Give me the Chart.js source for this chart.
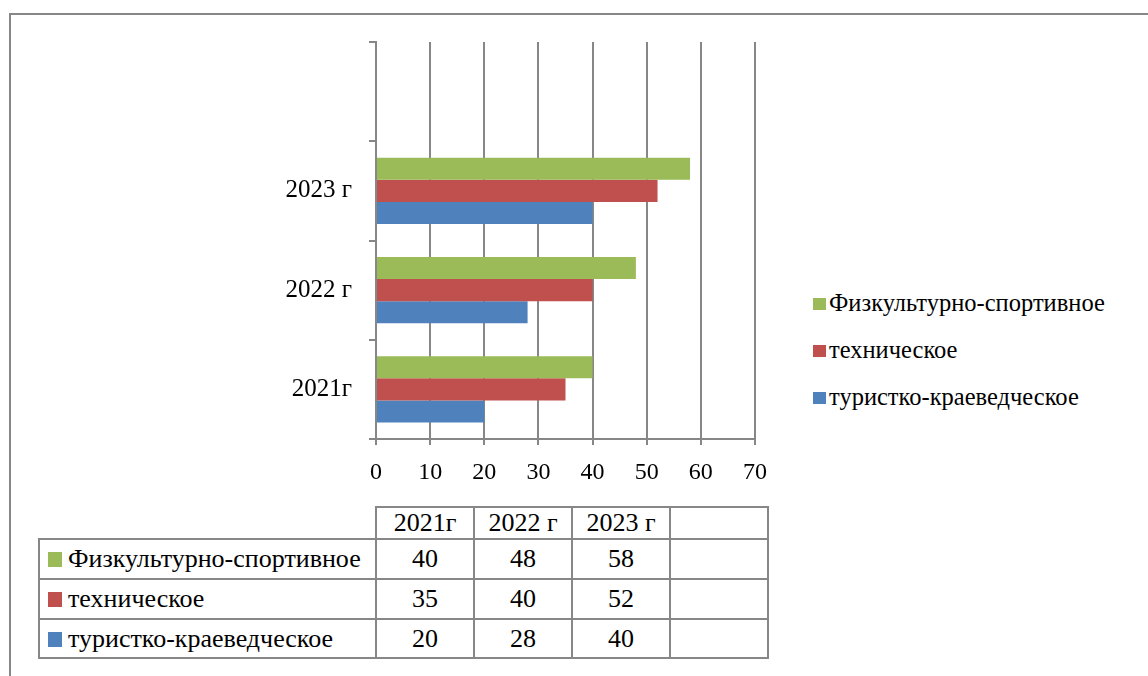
<!DOCTYPE html>
<html>
<head>
<meta charset="utf-8">
<script src="https://cdn.jsdelivr.net/npm/chart.js@4.4.0/dist/chart.umd.min.js"></script>
<style>
  html, body { margin: 0; padding: 0; background: #fff; }
  body { width: 1148px; height: 676px; position: relative; overflow: hidden; font-family: "Liberation Serif", "DejaVu Serif", serif; }
  #frame { position: absolute; left: 9px; top: 13px; width: 1200px; height: 700px; border: 2px solid #878787; box-sizing: border-box; }
  #wrap { position: absolute; left: 0; top: 0; }
  #legend { position: absolute; left: 813px; top: 284px; font-size: 24.5px; color: #000; }
  #legend div { height: 47px; line-height: 38px; white-space: nowrap; }
  #legend span.sw { display: inline-block; width: 13px; height: 12px; margin-right: 3px; vertical-align: 1px; }
  #tbl { position: absolute; left: 38px; top: 506px; border-collapse: collapse; font-size: 26px; color: #000; }
  #tbl td { border: 2px solid #878787; padding: 0; text-align: center; white-space: nowrap; }
  #tbl td.lab { text-align: left; padding-left: 8px; }
  #tbl td.blank { border: none; }
  #tbl span.sw { display: inline-block; width: 14px; height: 15px; margin-right: 6px; vertical-align: 0px; }
</style>
</head>
<body>
<div id="frame"></div>
<div id="wrap"><canvas id="chart" width="780" height="500"></canvas></div>
<div id="legend"></div>
<table id="tbl"></table>
<script>
// categories along the value axis (bottom to top), last one is empty in the source
var categories = ["2021г", "2022 г", "2023 г", ""];
var seriesNames = ["Физкультурно-спортивное", "техническое", "туристко-краеведческое"];
var sport = [40, 48, 58, null];
var tech = [35, 40, 52, null];
var tourism = [20, 28, 40, null];
var xTicks = [0, 10, 20, 30, 40, 50, 60, 70];
var colors = ["#9BBB59", "#C0504D", "#4F81BD"];

var seriesValues = [sport, tech, tourism];
var gridColor = "#878787";
var font = { family: "'Liberation Serif', 'DejaVu Serif', serif", size: 24 };

var datasets = seriesNames.map(function(name, i) {
  return {
    label: name,
    data: seriesValues[i],
    backgroundColor: colors[i],
    borderWidth: 0,
    categoryPercentage: 0.667,
    barPercentage: 1.0
  };
});

new Chart(document.getElementById("chart"), {
  type: "bar",
  data: { labels: categories, datasets: datasets },
  options: {
    indexAxis: "y",
    responsive: false,
    animation: false,
    layout: { padding: { top: 42, left: 0, right: 23, bottom: 0 } },
    plugins: { legend: { display: false }, tooltip: { enabled: false } },
    scales: {
      y: {
        reverse: true,
        grid: { drawOnChartArea: false, drawTicks: true, tickLength: 7, color: gridColor, lineWidth: 2, offset: true },
        border: { display: true, color: gridColor, width: 2 },
        ticks: { color: "#000", font: { family: font.family, size: 25 }, padding: 17 },
        afterFit: function(scale) { scale.width = 376; }
      },
      x: {
        min: 0,
        max: 70,
        afterBuildTicks: function(scale) {
          scale.ticks = xTicks.map(function(v) { return { value: v }; });
        },
        grid: { color: gridColor, lineWidth: 2, tickLength: 6 },
        border: { display: true, color: gridColor, width: 2 },
        ticks: { color: "#000", font: font, padding: 13, maxRotation: 0 },
        afterFit: function(scale) { scale.height = 61; }
      }
    }
  }
});

// legend at the right
var legend = document.getElementById("legend");
seriesNames.forEach(function(name, i) {
  var row = document.createElement("div");
  row.innerHTML = '<span class="sw" style="background:' + colors[i] + '"></span>' + name;
  legend.appendChild(row);
});

// data table under the chart
var tbl = document.getElementById("tbl");
var head = '<tr style="height:30px"><td class="blank" style="width:336px"></td>';
categories.forEach(function(c) { head += '<td style="width:96px">' + c + '</td>'; });
head += '</tr>';
var rowsHtml = "";
var rowHeights = [40, 40, 39];
seriesNames.forEach(function(name, i) {
  rowsHtml += '<tr style="height:' + rowHeights[i] + 'px"><td class="lab"><span class="sw" style="background:' + colors[i] + '"></span>' + name + '</td>';
  seriesValues[i].forEach(function(v) { rowsHtml += '<td>' + (v === null ? "" : v) + '</td>'; });
  rowsHtml += '</tr>';
});
tbl.innerHTML = head + rowsHtml;
</script>
</body>
</html>
